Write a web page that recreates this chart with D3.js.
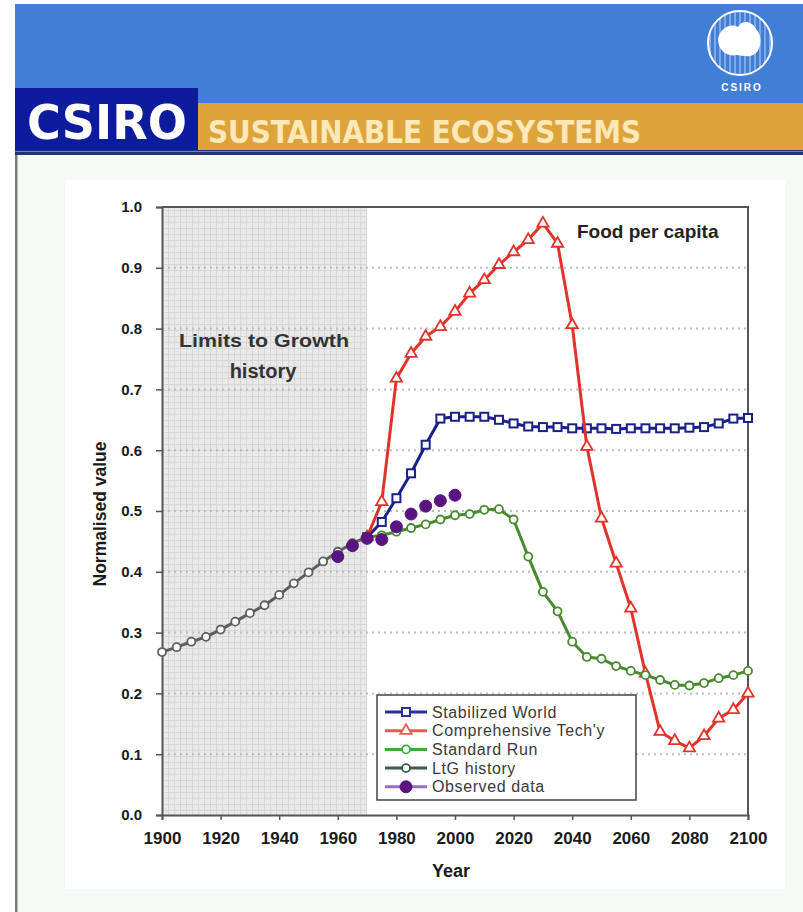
<!DOCTYPE html>
<html><head><meta charset="utf-8">
<script src="https://cdn.jsdelivr.net/npm/d3@7"></script>
<style>body{margin:0;background:#fff;}svg{display:block;}</style>
</head><body>
<svg id="c" width="803" height="912"></svg>
<script>
// ---------- data ----------
const ltgYears = [1900,1905,1910,1915,1920,1925,1930,1935,1940,1945,1950,1955,1960,1965,1970];
const ltgValues = [0.268,0.276,0.285,0.293,0.305,0.318,0.332,0.345,0.362,0.381,0.399,0.417,0.433,0.447,0.457];

const scenarioYears = [1970,1975,1980,1985,1990,1995,2000,2005,2010,2015,2020,2025,2030,2035,2040,2045,2050,2055,2060,2065,2070,2075,2080,2085,2090,2095,2100];
const stabilizedValues = [0.457,0.482,0.521,0.562,0.609,0.652,0.655,0.655,0.655,0.650,0.644,0.639,0.638,0.638,0.636,0.636,0.636,0.635,0.636,0.636,0.636,0.636,0.637,0.638,0.644,0.652,0.653];
const comprehensiveValues = [0.457,0.515,0.718,0.759,0.787,0.803,0.828,0.858,0.880,0.905,0.926,0.946,0.973,0.940,0.806,0.606,0.488,0.414,0.340,0.233,0.137,0.122,0.110,0.130,0.159,0.173,0.200];
const standardValues = [0.457,0.460,0.466,0.472,0.478,0.486,0.493,0.495,0.502,0.503,0.486,0.425,0.367,0.335,0.285,0.260,0.257,0.245,0.237,0.230,0.222,0.214,0.213,0.217,0.225,0.230,0.237];

const observedYears = [1960,1965,1970,1975,1980,1985,1990,1995,2000];
const observedValues = [0.425,0.443,0.455,0.453,0.474,0.495,0.508,0.517,0.526];

const xTicks = [1900,1920,1940,1960,1980,2000,2020,2040,2060,2080,2100];
const yTicks = [0,0.1,0.2,0.3,0.4,0.5,0.6,0.7,0.8,0.9,1.0];
const historyEnd = 1970;

const seriesNames = ["Stabilized World","Comprehensive Tech'y","Standard Run","LtG history","Observed data"];

// ---------- drawing ----------
const svg = d3.select("#c");
const FONT = "'Liberation Sans', Arial, sans-serif";
const NARROW = "'Liberation Sans Narrow','DejaVu Sans Condensed','Liberation Sans',sans-serif";

// header
svg.append("rect").attr("x",15).attr("y",4).attr("width",788).attr("height",100).attr("fill","#417fd6");
svg.append("rect").attr("x",198).attr("y",103).attr("width",605).attr("height",49).attr("fill","#dea43c");
svg.append("rect").attr("x",15).attr("y",88).attr("width",183).attr("height",64).attr("fill","#0d1c9c");
svg.append("rect").attr("x",15).attr("y",150).attr("width",788).attr("height",5).attr("fill","#23307a");
svg.append("rect").attr("x",15).attr("y",151).attr("width",788).attr("height",1).attr("fill","#6a7fd0");
svg.append("text").attr("x",27).attr("y",139).attr("font-family",NARROW).attr("font-weight","bold").attr("font-size",48)
  .attr("fill","#ffffff").attr("textLength",160).attr("lengthAdjust","spacingAndGlyphs").text("CSIRO");
svg.append("text").attr("x",208).attr("y",143).attr("font-family",NARROW).attr("font-weight","bold").attr("font-size",32)
  .attr("fill","#fce8b8").attr("textLength",433).attr("lengthAdjust","spacingAndGlyphs").text("SUSTAINABLE ECOSYSTEMS");

// logo
const logo = svg.append("g").attr("transform","translate(740,43)");
logo.append("clipPath").attr("id","lc").append("circle").attr("r",32);
const lg = logo.append("g").attr("clip-path","url(#lc)");
d3.range(-30,32,5).forEach(v=>lg.append("line").attr("x1",v).attr("x2",v).attr("y1",-32).attr("y2",32).attr("stroke","#a9c6ef").attr("stroke-width",1.2));
lg.append("path").attr("d","M-22,-4 C-20,-16 -8,-20 -2,-16 C2,-24 12,-22 16,-14 C22,-8 22,4 16,10 C10,16 2,12 -4,12 C-12,14 -22,8 -22,-4Z").attr("fill","#ffffff");
logo.append("circle").attr("r",32).attr("fill","none").attr("stroke","#ffffff").attr("stroke-width",2);
svg.append("text").attr("x",742).attr("y",91).attr("text-anchor","middle").attr("font-family",FONT).attr("font-weight","bold")
  .attr("font-size",10).attr("letter-spacing",2).attr("fill","#ffffff").text("CSIRO");

// content background
svg.append("rect").attr("x",18).attr("y",155).attr("width",785).attr("height",757).attr("fill","#f4faf4");
svg.append("rect").attr("x",15).attr("y",155).attr("width",2.5).attr("height",757).attr("fill","#7a7a7a");
svg.append("rect").attr("x",65).attr("y",180).attr("width",720).attr("height",709).attr("fill","#ffffff");

// scales
const x = d3.scaleLinear().domain([1900,2100]).range([162,748]);
const y = d3.scaleLinear().domain([0,1]).range([815,207]);

// grid pattern for history area
const defs = svg.append("defs");
const pat = defs.append("pattern").attr("id","gp").attr("patternUnits","userSpaceOnUse").attr("width",6).attr("height",6);
pat.append("rect").attr("width",6).attr("height",6).attr("fill","#e9e9e9");
pat.append("path").attr("d","M0,0.5H6M0.5,0V6").attr("stroke","#d6d6d6").attr("stroke-width",1);

svg.append("rect").attr("x",x(1900)).attr("y",y(1)).attr("width",x(historyEnd)-x(1900)).attr("height",y(0)-y(1)).attr("fill","url(#gp)");

// horizontal dotted gridlines
svg.append("g").selectAll("line").data(yTicks.filter(d=>d>0&&d<1)).join("line")
  .attr("x1",x(1900)).attr("x2",x(2100)).attr("y1",d=>y(d)).attr("y2",d=>y(d))
  .attr("stroke","#bdbdbd").attr("stroke-width",2).attr("stroke-dasharray","2,4");

// plot border top/right
svg.append("path").attr("d",`M${x(1900)},${y(1)}H${x(2100)}V${y(0)}`).attr("fill","none").attr("stroke","#555").attr("stroke-width",2);

// axes
const yAxis = svg.append("g").attr("transform",`translate(${x(1900)},0)`)
  .call(d3.axisLeft(y).tickValues(yTicks).tickFormat(d3.format(".1f")).tickSize(6).tickPadding(14));
const xAxis = svg.append("g").attr("transform",`translate(0,${y(0)})`)
  .call(d3.axisBottom(x).tickValues(xTicks).tickFormat(d3.format("d")).tickSize(5).tickPadding(12));
[yAxis,xAxis].forEach(a=>{
  a.select(".domain").attr("stroke","#555").attr("stroke-width",2);
  a.selectAll(".tick line").attr("stroke","#555").attr("stroke-width",1.5);
  a.selectAll(".tick text").attr("font-family",FONT).attr("font-weight","bold").attr("font-size",15).attr("fill","#1a1a1a");
});
xAxis.selectAll(".tick text").attr("font-size",17);

// axis titles
svg.append("text").attr("x",451).attr("y",877).attr("text-anchor","middle").attr("font-family",FONT).attr("font-weight","bold")
  .attr("font-size",18).attr("fill","#1a1a1a").text("Year");
svg.append("text").attr("transform","translate(106,514) rotate(-90)").attr("text-anchor","middle").attr("font-family",FONT)
  .attr("font-weight","bold").attr("font-size",17.5).attr("fill","#1a1a1a").text("Normalised value");

// annotations
svg.append("text").attr("x",264).attr("y",347).attr("text-anchor","middle").attr("font-family",FONT).attr("font-weight","bold")
  .attr("font-size",18).attr("fill","#333").attr("textLength",170).attr("lengthAdjust","spacingAndGlyphs").text("Limits to Growth");
svg.append("text").attr("x",263).attr("y",378).attr("text-anchor","middle").attr("font-family",FONT).attr("font-weight","bold")
  .attr("font-size",20).attr("fill","#333").text("history");
svg.append("text").attr("x",577).attr("y",238).attr("font-family",FONT).attr("font-weight","bold")
  .attr("font-size",19).attr("fill","#222").text("Food per capita");

// series
const line = d3.line().x(d=>x(d[0])).y(d=>y(d[1]));
const zip = (a,b)=>a.map((v,i)=>[v,b[i]]);

const series = [
  {name:seriesNames[0], data:zip(scenarioYears,stabilizedValues), color:"#1b1f8a", legendColor:"#2a2f9a", marker:"square", fill:"#fff"},
  {name:seriesNames[1], data:zip(scenarioYears,comprehensiveValues), color:"#e2332b", legendColor:"#ec5a50", marker:"triangle", fill:"#fff"},
  {name:seriesNames[2], data:zip(scenarioYears,standardValues), color:"#4a8a2e", legendColor:"#3fa83a", marker:"circle", fill:"#fff"},
  {name:seriesNames[3], data:zip(ltgYears,ltgValues), color:"#5a615b", legendColor:"#3e5a48", marker:"circle", fill:"#fff"},
  {name:seriesNames[4], data:zip(observedYears,observedValues), color:"none", legendColor:"#9b6bbf", marker:"dot", fill:"#5a1480"}
];

function drawMarker(g, type, color, fill){
  if(type==="square") g.append("rect").attr("x",-4).attr("y",-4).attr("width",8).attr("height",8).attr("fill",fill).attr("stroke",color).attr("stroke-width",2);
  else if(type==="triangle") g.append("path").attr("d",d3.symbol(d3.symbolTriangle,55)()).attr("fill",fill).attr("stroke",color).attr("stroke-width",1.8);
  else if(type==="circle") g.append("circle").attr("r",4).attr("fill",fill).attr("stroke",color).attr("stroke-width",1.8);
  else g.append("circle").attr("r",6).attr("fill",fill).attr("stroke",fill).attr("stroke-width",1);
}

series.forEach(s=>{
  const g = svg.append("g");
  if(s.color!=="none") g.append("path").attr("d",line(s.data)).attr("fill","none").attr("stroke",s.color).attr("stroke-width",3).attr("stroke-linejoin","round");
  g.selectAll("g").data(s.data).join("g").attr("transform",d=>`translate(${x(d[0])},${y(d[1])})`)
    .each(function(){ drawMarker(d3.select(this), s.marker, s.color==="none"?s.fill:s.color, s.fill); });
});

// legend
const lgd = svg.append("g").attr("transform","translate(377,695)");
lgd.append("rect").attr("width",259).attr("height",105).attr("fill","#fff").attr("stroke","#444").attr("stroke-width",1.5);
series.forEach((s,i)=>{
  const row = lgd.append("g").attr("transform",`translate(0,${17+i*18.7})`);
  row.append("line").attr("x1",8).attr("x2",50).attr("stroke",s.legendColor).attr("stroke-width",3);
  const m = row.append("g").attr("transform","translate(29,0)");
  drawMarker(m, s.marker, s.marker==="dot"?s.fill:s.legendColor, s.fill);
  row.append("text").attr("x",55).attr("y",5.5).attr("font-family",FONT).attr("font-size",16).attr("letter-spacing",0.6)
    .attr("fill","#3a3a3a").text(s.name);
});
</script>
</body></html>
